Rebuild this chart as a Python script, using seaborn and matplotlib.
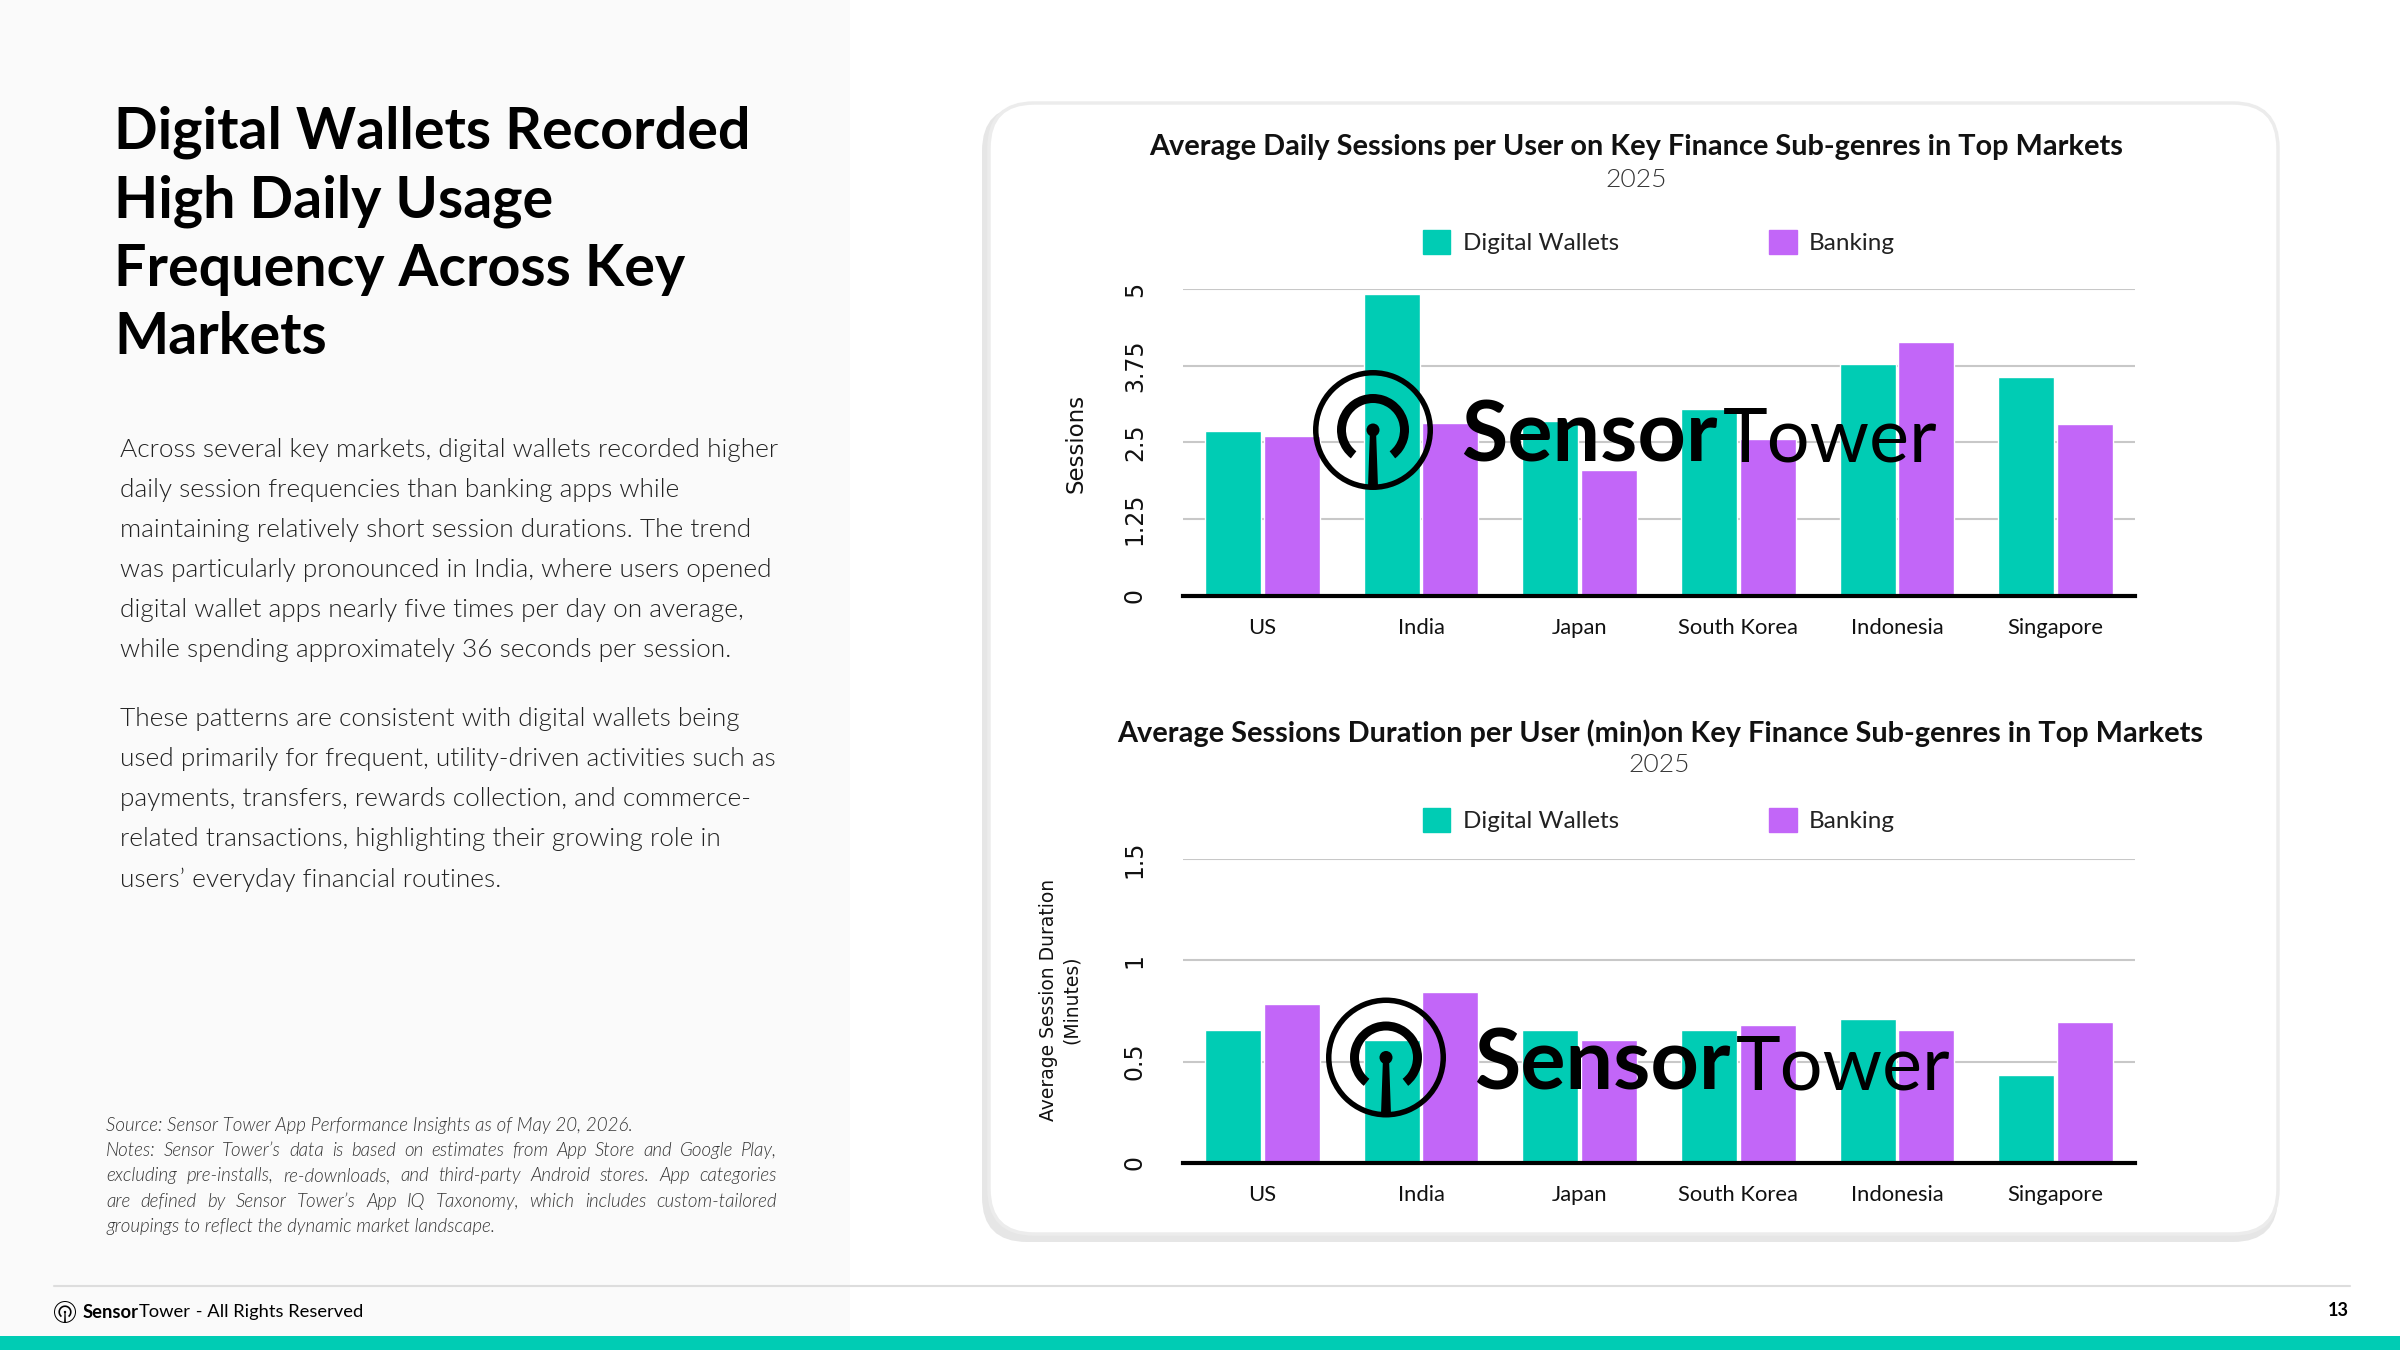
import numpy as np
import pandas as pd
import seaborn as sns
import matplotlib.pyplot as plt
from matplotlib.patches import Rectangle, FancyBboxPatch, Wedge, Circle, Polygon, Patch

## Data
markets = ['US', 'India', 'Japan', 'South Korea', 'Indonesia', 'Singapore']
series = ['Digital Wallets', 'Banking']
sessions_wallets = [2.69, 4.92, 2.84, 3.05, 3.78, 3.57]
sessions_banking = [2.60, 2.81, 2.05, 2.56, 4.14, 2.80]
duration_wallets = [0.655, 0.605, 0.658, 0.658, 0.71, 0.434]
duration_banking = [0.784, 0.843, 0.609, 0.68, 0.655, 0.696]
sessions_ticks = [0, 1.25, 2.5, 3.75, 5]
sessions_ticklabels = ['0', '1.25', '2.5', '3.75', '5']
duration_ticks = [0, 0.5, 1, 1.5]
duration_ticklabels = ['0', '0.5', '1', '1.5']

title_lines = ['Digital Wallets Recorded', 'High Daily Usage', 'Frequency Across Key', 'Markets']
para1 = ['Across several key markets, digital wallets recorded higher',
         'daily session frequencies than banking apps while',
         'maintaining relatively short session durations. The trend',
         'was particularly pronounced in India, where users opened',
         'digital wallet apps nearly five times per day on average,',
         'while spending approximately 36 seconds per session.']
para2 = ['These patterns are consistent with digital wallets being',
         'used primarily for frequent, utility-driven activities such as',
         'payments, transfers, rewards collection, and commerce-',
         'related transactions, highlighting their growing role in',
         'users\u2019 everyday financial routines.']
notes = ['Source: Sensor Tower App Performance Insights as of May 20, 2026.',
         'Notes: Sensor Tower\u2019s data is based on estimates from App Store and Google Play,',
         'excluding pre-installs, re-downloads, and third-party Android stores. App categories',
         'are defined by Sensor Tower\u2019s App IQ Taxonomy, which includes custom-tailored',
         'groupings to reflect the dynamic market landscape.']

TEAL = '#00ccb4'
PURPLE = '#c266f8'

df_sessions = pd.DataFrame({'market': markets * 2,
                            'type': [series[0]] * 6 + [series[1]] * 6,
                            'value': sessions_wallets + sessions_banking})
df_duration = pd.DataFrame({'market': markets * 2,
                            'type': [series[0]] * 6 + [series[1]] * 6,
                            'value': duration_wallets + duration_banking})

sns.set_theme(style='white')
plt.rcParams['font.family'] = ['Lato', 'DejaVu Sans']

W, H = 2400, 1350
fig = plt.figure(figsize=(24, 13.5), dpi=100)
fig.patch.set_facecolor('white')
renderer = fig.canvas.get_renderer()


def fx(x):
    return x / W


def fy(y):
    return 1 - y / H


def T(x, y, s, **kw):
    return fig.text(fx(x), fy(y), s, **kw)


def text_width(t):
    return t.get_window_extent(renderer).width


# background shapes in pixel coordinates
bg = fig.add_axes([0, 0, 1, 1], zorder=0)
bg.set_xlim(0, W)
bg.set_ylim(0, H)
bg.axis('off')
bg.add_patch(Rectangle((0, H - 1336), 850, 1336, color='#fafafa', lw=0))
bg.add_patch(Rectangle((0, 0), W, 14, color=TEAL, lw=0))
bg.plot([54, 2350], [H - 1286, H - 1286], color='#dddddd', lw=1.5)
bg.add_patch(FancyBboxPatch((982, H - 1242), 1296, 1136, boxstyle='round,pad=0,rounding_size=45',
                            fc='#e6e6e6', ec='none'))
bg.add_patch(FancyBboxPatch((989, H - 1234), 1289, 1131, boxstyle='round,pad=0,rounding_size=45',
                            fc='white', ec='#ececec', lw=2.5))


def bar_chart(data, rect, ticks, ticklabels):
    ax = fig.add_axes(rect, zorder=1)
    ax.set_facecolor('none')
    sns.barplot(data=data, x='market', y='value', hue='type', palette=[TEAL, PURPLE],
                width=0.74, gap=0.05, saturation=1, legend=False, ax=ax, zorder=2)
    ax.set_ylim(ticks[0], ticks[-1])
    ax.set_yticks(ticks)
    ax.set_yticklabels(ticklabels, rotation=90, va='center',
                       fontfamily='DejaVu Sans', fontsize=17, color='#111111')
    ax.grid(axis='y', color='#c8c8c8', lw=1.5, zorder=0)
    ax.set_axisbelow(True)
    for s in ['top', 'right', 'left']:
        ax.spines[s].set_visible(False)
    ax.spines['bottom'].set_color('black')
    ax.spines['bottom'].set_linewidth(3)
    ax.spines['bottom'].set_zorder(5)
    ax.tick_params(axis='y', length=0, pad=26)
    ax.tick_params(axis='x', length=0, pad=16, labelsize=15.8, labelcolor='#111111')
    ax.set_xlabel('')
    ax.set_ylabel('')
    return ax


ax1 = bar_chart(df_sessions, [fx(1183), fy(595.5), 952 / W, 306.5 / H], sessions_ticks, sessions_ticklabels)
ax2 = bar_chart(df_duration, [fx(1183), fy(1163), 952 / W, 304 / H], duration_ticks, duration_ticklabels)

# legends
for ax, ly in [(ax1, 242), (ax2, 820)]:
    handles = [Patch(color=TEAL, label=series[0]), Patch(color=PURPLE, label=series[1])]
    ax.legend(handles=handles, loc='center', bbox_to_anchor=(fx(1659), fy(ly)),
              bbox_transform=fig.transFigure, ncol=2, frameon=False, fontsize=17.5,
              handlelength=1.13, handleheight=1.13, handletextpad=0.5, columnspacing=6.2,
              labelcolor='#222222')

# chart titles
T(1636, 147, 'Average Daily Sessions per User on Key Finance Sub-genres in Top Markets',
  ha='center', va='center', fontsize=20.8, fontweight='bold', color='#111111')
T(1636, 180, '2025', ha='center', va='center', fontsize=19, fontweight=300, color='#333333')
T(1660, 733, 'Average Sessions Duration per User (min)on Key Finance Sub-genres in Top Markets',
  ha='center', va='center', fontsize=20.8, fontweight='bold', color='#111111')
T(1659, 765, '2025', ha='center', va='center', fontsize=19, fontweight=300, color='#333333')

# y axis labels
T(1076, 443, 'Sessions', rotation=90, ha='center', va='center', fontfamily='DejaVu Sans',
  fontsize=16.5, color='#111111')
T(1060, 1000, 'Average Session Duration\n(Minutes)', rotation=90, ha='center', va='center',
  fontfamily='DejaVu Sans', fontsize=13.5, color='#111111', linespacing=1.25)

# watermark logos on top of the charts
ov = fig.add_axes([0, 0, 1, 1], zorder=5)
ov.set_xlim(0, W)
ov.set_ylim(0, H)
ov.axis('off')
ov.patch.set_alpha(0)


def draw_logo(cx, cy, r, color='black'):
    k = r / 60.0
    ov.add_patch(Wedge((cx, cy), r, 0, 360, width=5.5 * k, fc=color, ec='none'))
    ov.add_patch(Wedge((cx, cy), 36 * k, -52, 232, width=9 * k, fc=color, ec='none'))
    ov.add_patch(Circle((cx, cy), 6.5 * k, fc=color, ec='none'))
    ov.add_patch(Polygon([(cx - 3 * k, cy), (cx + 3 * k, cy), (cx + 5 * k, cy - r + 3 * k),
                          (cx - 5 * k, cy - r + 3 * k)], closed=True, fc=color, ec='none'))


def fit_text(x, y, s, width, weight, size=60):
    t = T(x, y, s, ha='left', va='baseline', fontsize=size, fontweight=weight, color='black', zorder=6)
    t.set_fontsize(size * width / text_width(t))
    return t


for dx, dy in [(0, 0), (13, 627.5)]:
    draw_logo(1373 + dx, H - (430 + dy), 60)
    fit_text(1461 + dx, 461.7 + dy, 'Sensor', 256, 'bold')
    fit_text(1723 + dx, 461.7 + dy, 'Tower', 215, 'normal')

# left panel text
for i, line in enumerate(title_lines):
    T(114, 132.6 + i * 68.4, line, ha='left', va='center', fontsize=41.3, fontweight='bold', color='black')
for i, line in enumerate(para1):
    T(120, 450 + i * 40.1, line, ha='left', va='center', fontsize=18.9, fontweight=300, color='#222222')
for i, line in enumerate(para2):
    T(120, 719 + i * 40.1, line, ha='left', va='center', fontsize=18.9, fontweight=300, color='#222222')


def justified(x0, x1, y, line, **kw):
    words = line.split(' ')
    items = [T(x0, y, w, ha='left', va='center', **kw) for w in words]
    widths = [text_width(t) for t in items]
    gap = (x1 - x0 - sum(widths)) / (len(words) - 1)
    x = x0
    for t, w in zip(items, widths):
        t.set_x(fx(x))
        x += w + gap


note_style = dict(fontsize=13.5, fontweight=300, fontstyle='italic', color='#333333')
for i, line in enumerate(notes):
    y = 1125 + i * 25.4
    if i in (1, 2, 3):
        justified(106, 777, y, line, **note_style)
    else:
        T(106, y, line, ha='left', va='center', **note_style)

# footer
draw_logo(65, H - 1312, 11)
x = 83
for s, wt in [('Sensor', 'bold'), ('Tower', 'normal'), (' - All Rights Reserved', 'normal')]:
    t = T(x, 1312, s, ha='left', va='center', fontsize=13.2, fontweight=wt, color='black')
    x += text_width(t)
T(2338, 1310, '13', ha='center', va='center', fontsize=13, fontweight='bold', color='black')

fig.savefig('out.png', dpi=100, facecolor='white')
